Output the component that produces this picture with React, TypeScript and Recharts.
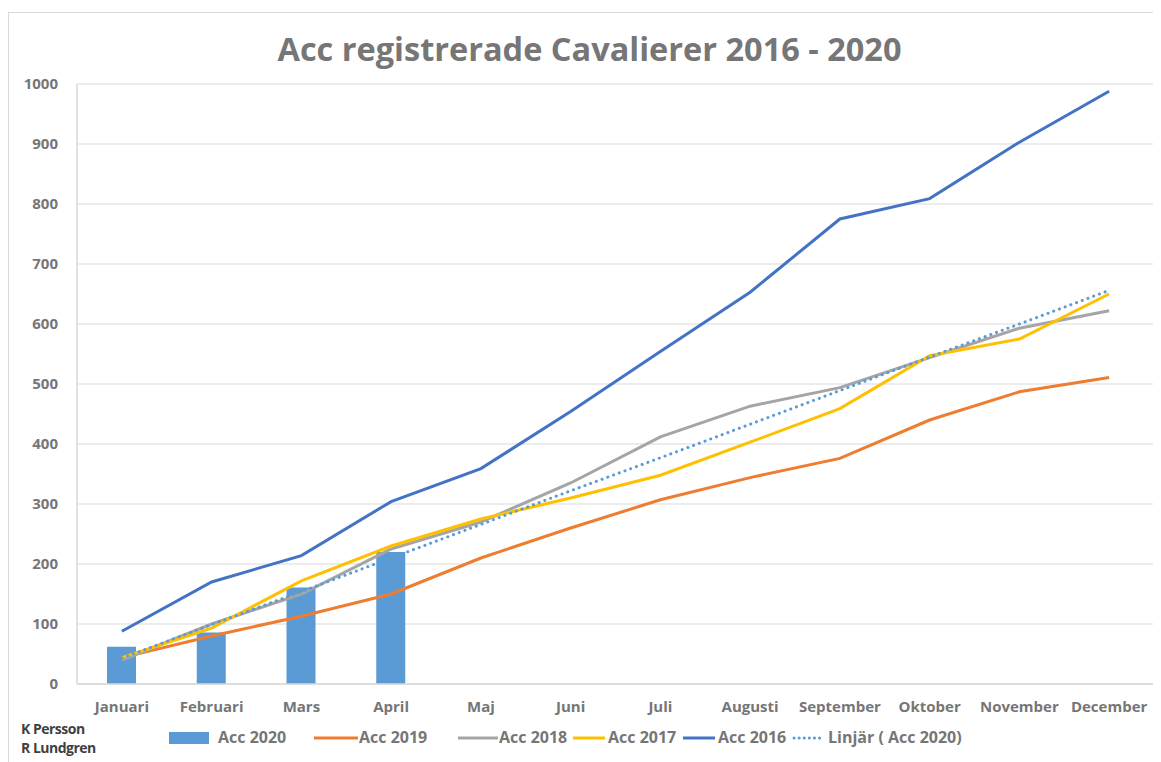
import React from "react";
import {
  ComposedChart,
  Bar,
  Line,
  XAxis,
  YAxis,
  CartesianGrid,
} from "recharts";

const months = [
  "Januari", "Februari", "Mars", "April", "Maj", "Juni",
  "Juli", "Augusti", "September", "Oktober", "November", "December",
];
const acc2020 = [62, 86, 161, 220, null, null, null, null, null, null, null, null];
const acc2019 = [44, 80, 113, 150, 210, 260, 307, 344, 376, 440, 487, 511];
const acc2018 = [40, 100, 150, 225, 270, 335, 412, 463, 494, 544, 593, 622];
const acc2017 = [44, 93, 172, 230, 275, 310, 348, 403, 459, 547, 575, 650];
const acc2016 = [88, 170, 214, 304, 359, 454, 554, 653, 775, 809, 903, 988];
const trend2020 = [43, 99, 154, 210, 266, 322, 377, 433, 489, 545, 600, 656];
const yTicks = [0, 100, 200, 300, 400, 500, 600, 700, 800, 900, 1000];

const data = months.map((m, i) => ({
  month: m,
  a2020: acc2020[i],
  a2019: acc2019[i],
  a2018: acc2018[i],
  a2017: acc2017[i],
  a2016: acc2016[i],
  trend: trend2020[i],
}));

const FONT = "'Open Sans', 'Liberation Sans', sans-serif";
const TEXT = "#767676";

// swatch start / swatch width / text start
const legendItems = [
  { label: "Acc 2020", kind: "bar", color: "#5B9BD5", left: 168, sw: 40, text: 217 },
  { label: "Acc 2019", kind: "line", color: "#ED7D31", left: 313, sw: 44, text: 358 },
  { label: "Acc 2018", kind: "line", color: "#A5A5A5", left: 457, sw: 40, text: 498 },
  { label: "Acc 2017", kind: "line", color: "#FFC000", left: 572, sw: 32, text: 607 },
  { label: "Acc 2016", kind: "line", color: "#4472C4", left: 682, sw: 32, text: 717 },
  { label: "Linjär ( Acc 2020)", kind: "dot", color: "#5B9BD5", left: 791, sw: 30, text: 827 },
];

export default function App() {
  return (
    <div
      style={{
        position: "relative",
        width: 1153,
        height: 750,
        marginTop: 4,
        borderTop: "1px solid #D9D9D9",
        borderLeft: "1px solid #D9D9D9",
        fontFamily: FONT,
        background: "#fff",
      }}
    >
      <div
        style={{
          position: "absolute",
          top: 13,
          left: 0,
          width: 1161,
          textAlign: "center",
          fontSize: 32.5,
          fontWeight: 700,
          color: TEXT,
        }}
      >
        Acc registrerade Cavalierer 2016 - 2020
      </div>
      <ComposedChart
        width={1152}
        height={750}
        data={data}
        margin={{ top: 71, right: 7, left: 18, bottom: 42 }}
      >
        <CartesianGrid vertical={false} stroke="#D9D9D9" strokeWidth={1} />
        <XAxis
          dataKey="month"
          axisLine={{ stroke: "#D9D9D9", strokeWidth: 1.5 }}
          tickLine={false}
          tickMargin={11}
          height={37}
          interval={0}
          tick={{ fill: TEXT, fontSize: 15, fontWeight: 700, fontFamily: FONT }}
        />
        <YAxis
          domain={[0, 1000]}
          ticks={yTicks}
          axisLine={{ stroke: "#D9D9D9", strokeWidth: 1.5 }}
          tickLine={false}
          tickMargin={13}
          width={50}
          tick={{ fill: TEXT, fontSize: 15, fontWeight: 700, fontFamily: FONT }}
        />
        <Bar dataKey="a2020" fill="#5B9BD5" barSize={29} isAnimationActive={false} />
        <Line dataKey="a2019" stroke="#ED7D31" strokeWidth={3} dot={false} type="linear" isAnimationActive={false} />
        <Line dataKey="a2018" stroke="#A5A5A5" strokeWidth={3} dot={false} type="linear" isAnimationActive={false} />
        <Line dataKey="a2017" stroke="#FFC000" strokeWidth={3} dot={false} type="linear" isAnimationActive={false} />
        <Line dataKey="a2016" stroke="#4472C4" strokeWidth={3} dot={false} type="linear" isAnimationActive={false} />
        <Line
          dataKey="trend"
          stroke="#5B9BD5"
          strokeWidth={3}
          strokeDasharray="0.1 6"
          strokeLinecap="round"
          dot={false}
          type="linear"
          isAnimationActive={false}
        />
      </ComposedChart>
      {legendItems.map((it) => (
        <React.Fragment key={it.label}>
          <svg
            width={it.sw}
            height={16}
            style={{ position: "absolute", left: it.left - 8, top: 717 }}
          >
            {it.kind === "bar" && <rect x={0} y={2} width={it.sw} height={12} fill={it.color} />}
            {it.kind === "line" && (
              <line x1={0} y1={8} x2={it.sw} y2={8} stroke={it.color} strokeWidth={3} />
            )}
            {it.kind === "dot" && (
              <line
                x1={2}
                y1={8}
                x2={it.sw - 1}
                y2={8}
                stroke={it.color}
                strokeWidth={3}
                strokeDasharray="0.1 5"
                strokeLinecap="round"
              />
            )}
          </svg>
          <div
            style={{
              position: "absolute",
              top: 713,
              left: it.text - 8,
              fontSize: 16,
              fontWeight: 700,
              color: TEXT,
              whiteSpace: "nowrap",
              lineHeight: "22px",
            }}
          >
            {it.label}
          </div>
        </React.Fragment>
      ))}
      <div
        style={{
          position: "absolute",
          top: 706,
          left: 12,
          fontSize: 14,
          fontWeight: 700,
          color: "#3f3f3f",
          lineHeight: "19px",
          letterSpacing: -0.5,
        }}
      >
        <div>K Persson</div>
        <div>R Lundgren</div>
      </div>
    </div>
  );
}
